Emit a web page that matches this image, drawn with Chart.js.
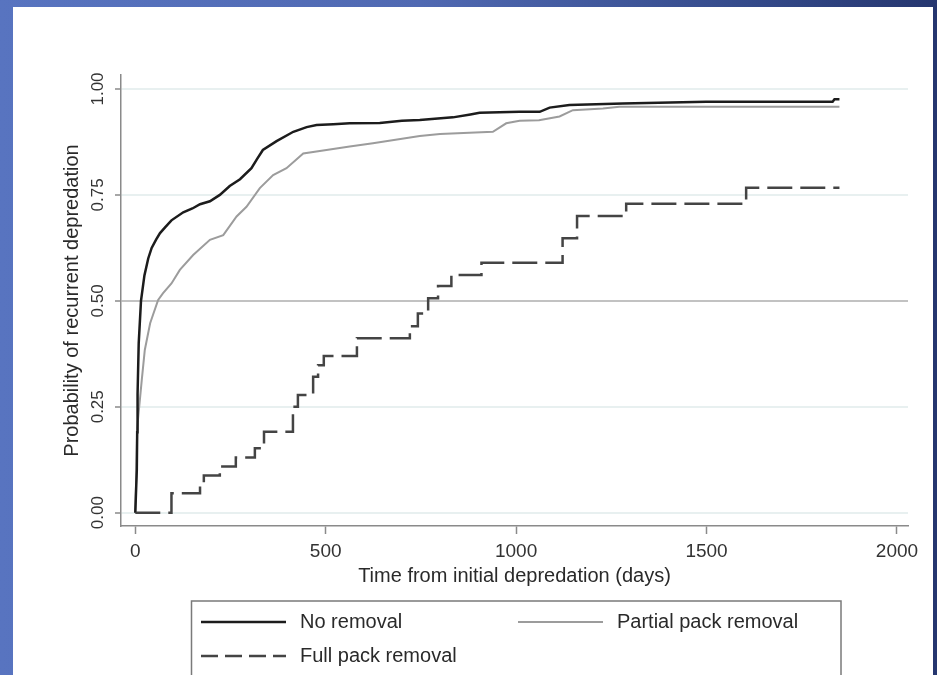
<!DOCTYPE html>
<html>
<head>
<meta charset="utf-8">
<script src="https://cdn.jsdelivr.net/npm/chart.js@4.4.1/dist/chart.umd.min.js"></script>
<style>
  html, body { margin: 0; padding: 0; }
  body {
    width: 937px; height: 675px; overflow: hidden; position: relative;
    background: linear-gradient(90deg, #5874c0 0%, #5069b2 45%, #344a8a 80%, #25366f 100%);
  }
  #panel { position: absolute; left: 13px; top: 7px; width: 920px; height: 668px; background: #fff; }
  #chart { position: absolute; left: 0; top: 0; }
</style>
</head>
<body>
<div id="panel"></div>
<canvas id="chart" width="937" height="675"></canvas>
<script>
// Kaplan-Meier style curves (days, probability)
const noRemovalX = [0, 4, 5, 6, 9, 15, 24, 34, 43, 55, 65, 80, 95, 126, 150, 170, 196, 222, 248, 275, 305, 320, 335, 371, 415, 450, 476, 520, 563, 642, 700, 747, 834, 880, 904, 1009, 1062, 1088, 1140, 1280, 1499, 1831, 1836, 1849];
const noRemovalY = [0, 0.10, 0.19, 0.28, 0.40, 0.50, 0.56, 0.60, 0.625, 0.645, 0.66, 0.675, 0.69, 0.709, 0.718, 0.728, 0.735, 0.75, 0.771, 0.787, 0.813, 0.835, 0.856, 0.877, 0.899, 0.91, 0.915, 0.917, 0.919, 0.92, 0.925, 0.927, 0.933, 0.94, 0.944, 0.946, 0.946, 0.956, 0.962, 0.966, 0.97, 0.97, 0.976, 0.976];

const partialX = [0, 3, 5, 17, 25, 39, 60, 73, 95, 117, 152, 196, 231, 266, 292, 327, 362, 397, 441, 502, 563, 624, 747, 800, 939, 974, 1009, 1060, 1114, 1149, 1228, 1271, 1849];
const partialY = [0, 0.10, 0.20, 0.313, 0.384, 0.447, 0.502, 0.518, 0.541, 0.573, 0.608, 0.644, 0.655, 0.699, 0.722, 0.766, 0.797, 0.813, 0.848, 0.856, 0.864, 0.872, 0.889, 0.894, 0.899, 0.919, 0.925, 0.926, 0.935, 0.95, 0.954, 0.958, 0.958];

const fullX = [0, 95, 170, 180, 222, 264, 314, 338, 414, 427, 467, 480, 495, 582, 721, 742, 769, 795, 830, 909, 1122, 1160, 1289, 1604, 1849];
const fullY = [0, 0.046, 0.068, 0.088, 0.109, 0.13, 0.152, 0.191, 0.25, 0.278, 0.321, 0.348, 0.37, 0.412, 0.44, 0.47, 0.506, 0.535, 0.561, 0.59, 0.648, 0.70, 0.729, 0.767, 0.767];

const seriesNames = ["No removal", "Partial pack removal", "Full pack removal"];
const xTicks = [0, 500, 1000, 1500, 2000];
const yTicks = [0, 0.25, 0.5, 0.75, 1];
const yTickLabels = ["0.00", "0.25", "0.50", "0.75", "1.00"];

const FONT = '"Liberation Sans", Arial, Helvetica, sans-serif';
const AXIS_GREY = "#8a8a8a";

function pts(xs, ys) {
  return xs.map((x, i) => ({ x: x, y: ys[i] }));
}

// y tick labels are rotated in the original, so draw them here
const yLabelPlugin = {
  id: "yLabels",
  afterDraw(chart) {
    const ctx = chart.ctx;
    const y = chart.scales.y;
    ctx.save();
    ctx.fillStyle = "#333";
    ctx.font = "17px " + FONT;
    ctx.textAlign = "center";
    ctx.textBaseline = "middle";
    yTicks.forEach((v, i) => {
      ctx.save();
      ctx.translate(98, y.getPixelForValue(v));
      ctx.rotate(-Math.PI / 2);
      ctx.fillText(yTickLabels[i], 0, 0);
      ctx.restore();
    });
    ctx.restore();
  },
};

// boxed legend, two columns like the Stata one
const legendPlugin = {
  id: "boxLegend",
  afterDraw(chart) {
    const ctx = chart.ctx;
    const ds = chart.data.datasets;
    const items = [
      { d: ds[0], lx: 201, tx: 300, y: 622 },
      { d: ds[1], lx: 518, tx: 617, y: 622 },
      { d: ds[2], lx: 201, tx: 300, y: 656 },
    ];
    ctx.save();
    ctx.strokeStyle = "#7a7a7a";
    ctx.lineWidth = 1.5;
    ctx.strokeRect(191.5, 601, 649.5, 90);
    ctx.font = "20px " + FONT;
    ctx.textBaseline = "middle";
    items.forEach((it) => {
      ctx.strokeStyle = it.d.borderColor;
      ctx.lineWidth = it.d.borderWidth;
      ctx.setLineDash(it.d.borderDash ? [17, 7] : []);
      ctx.beginPath();
      ctx.moveTo(it.lx, it.y);
      ctx.lineTo(it.lx + 85, it.y);
      ctx.stroke();
      ctx.setLineDash([]);
      ctx.fillStyle = "#2a2a2a";
      ctx.fillText(it.d.label, it.tx, it.y);
    });
    ctx.restore();
  },
};

const ctx = document.getElementById("chart");
new Chart(ctx, {
  type: "line",
  data: {
    datasets: [
      {
        label: seriesNames[0],
        data: pts(noRemovalX, noRemovalY),
        borderColor: "#1c1c1c",
        borderWidth: 2.5,
        pointRadius: 0,
        tension: 0,
      },
      {
        label: seriesNames[1],
        data: pts(partialX, partialY),
        borderColor: "#9c9c9c",
        borderWidth: 2,
        pointRadius: 0,
        tension: 0,
      },
      {
        label: seriesNames[2],
        data: pts(fullX, fullY),
        borderColor: "#444",
        borderWidth: 2.5,
        borderDash: [25, 8],
        pointRadius: 0,
        stepped: "before", // hold the level, then jump at the event time
      },
    ],
  },
  options: {
    responsive: false,
    animation: false,
    events: [],
    layout: {
      padding: { top: 75, right: 29, bottom: 0, left: 0 },
    },
    plugins: {
      legend: { display: false },
      tooltip: { enabled: false },
    },
    scales: {
      x: {
        type: "linear",
        min: -37.5,
        max: 2029,
        afterBuildTicks: (s) => { s.ticks = xTicks.map((v) => ({ value: v })); },
        afterFit: (s) => { s.height = 149; },
        grid: {
          drawOnChartArea: false,
          drawTicks: true,
          tickLength: 8,
          tickColor: AXIS_GREY,
          tickWidth: 1.5,
        },
        border: { display: true, color: AXIS_GREY, width: 1.5 },
        ticks: {
          padding: 6,
          color: "#333",
          font: { family: FONT, size: 19 },
          maxRotation: 0,
          callback: (v) => String(v),
        },
        title: {
          display: true,
          text: "Time from initial depredation (days)",
          color: "#2a2a2a",
          font: { family: FONT, size: 20 },
          padding: { top: 0, bottom: 87 },
        },
      },
      y: {
        type: "linear",
        min: -0.0314,
        max: 1.033,
        afterBuildTicks: (s) => { s.ticks = yTicks.map((v) => ({ value: v })); },
        afterFit: (s) => { s.width = 121; },
        grid: {
          drawOnChartArea: true,
          drawTicks: true,
          tickLength: 6,
          tickColor: AXIS_GREY,
          tickWidth: 1.5,
          color: (c) => (c.tick && c.tick.value === 0.5 ? "#c2c2c2" : "#e8f0f0"),
          lineWidth: 2,
        },
        border: { display: true, color: AXIS_GREY, width: 1.5 },
        ticks: { display: false },
        title: {
          display: true,
          text: "Probability of recurrent depredation",
          color: "#2a2a2a",
          font: { family: FONT, size: 20 },
          padding: { top: 60, bottom: 0 },
        },
      },
    },
  },
  plugins: [yLabelPlugin, legendPlugin],
});
</script>
</body>
</html>
